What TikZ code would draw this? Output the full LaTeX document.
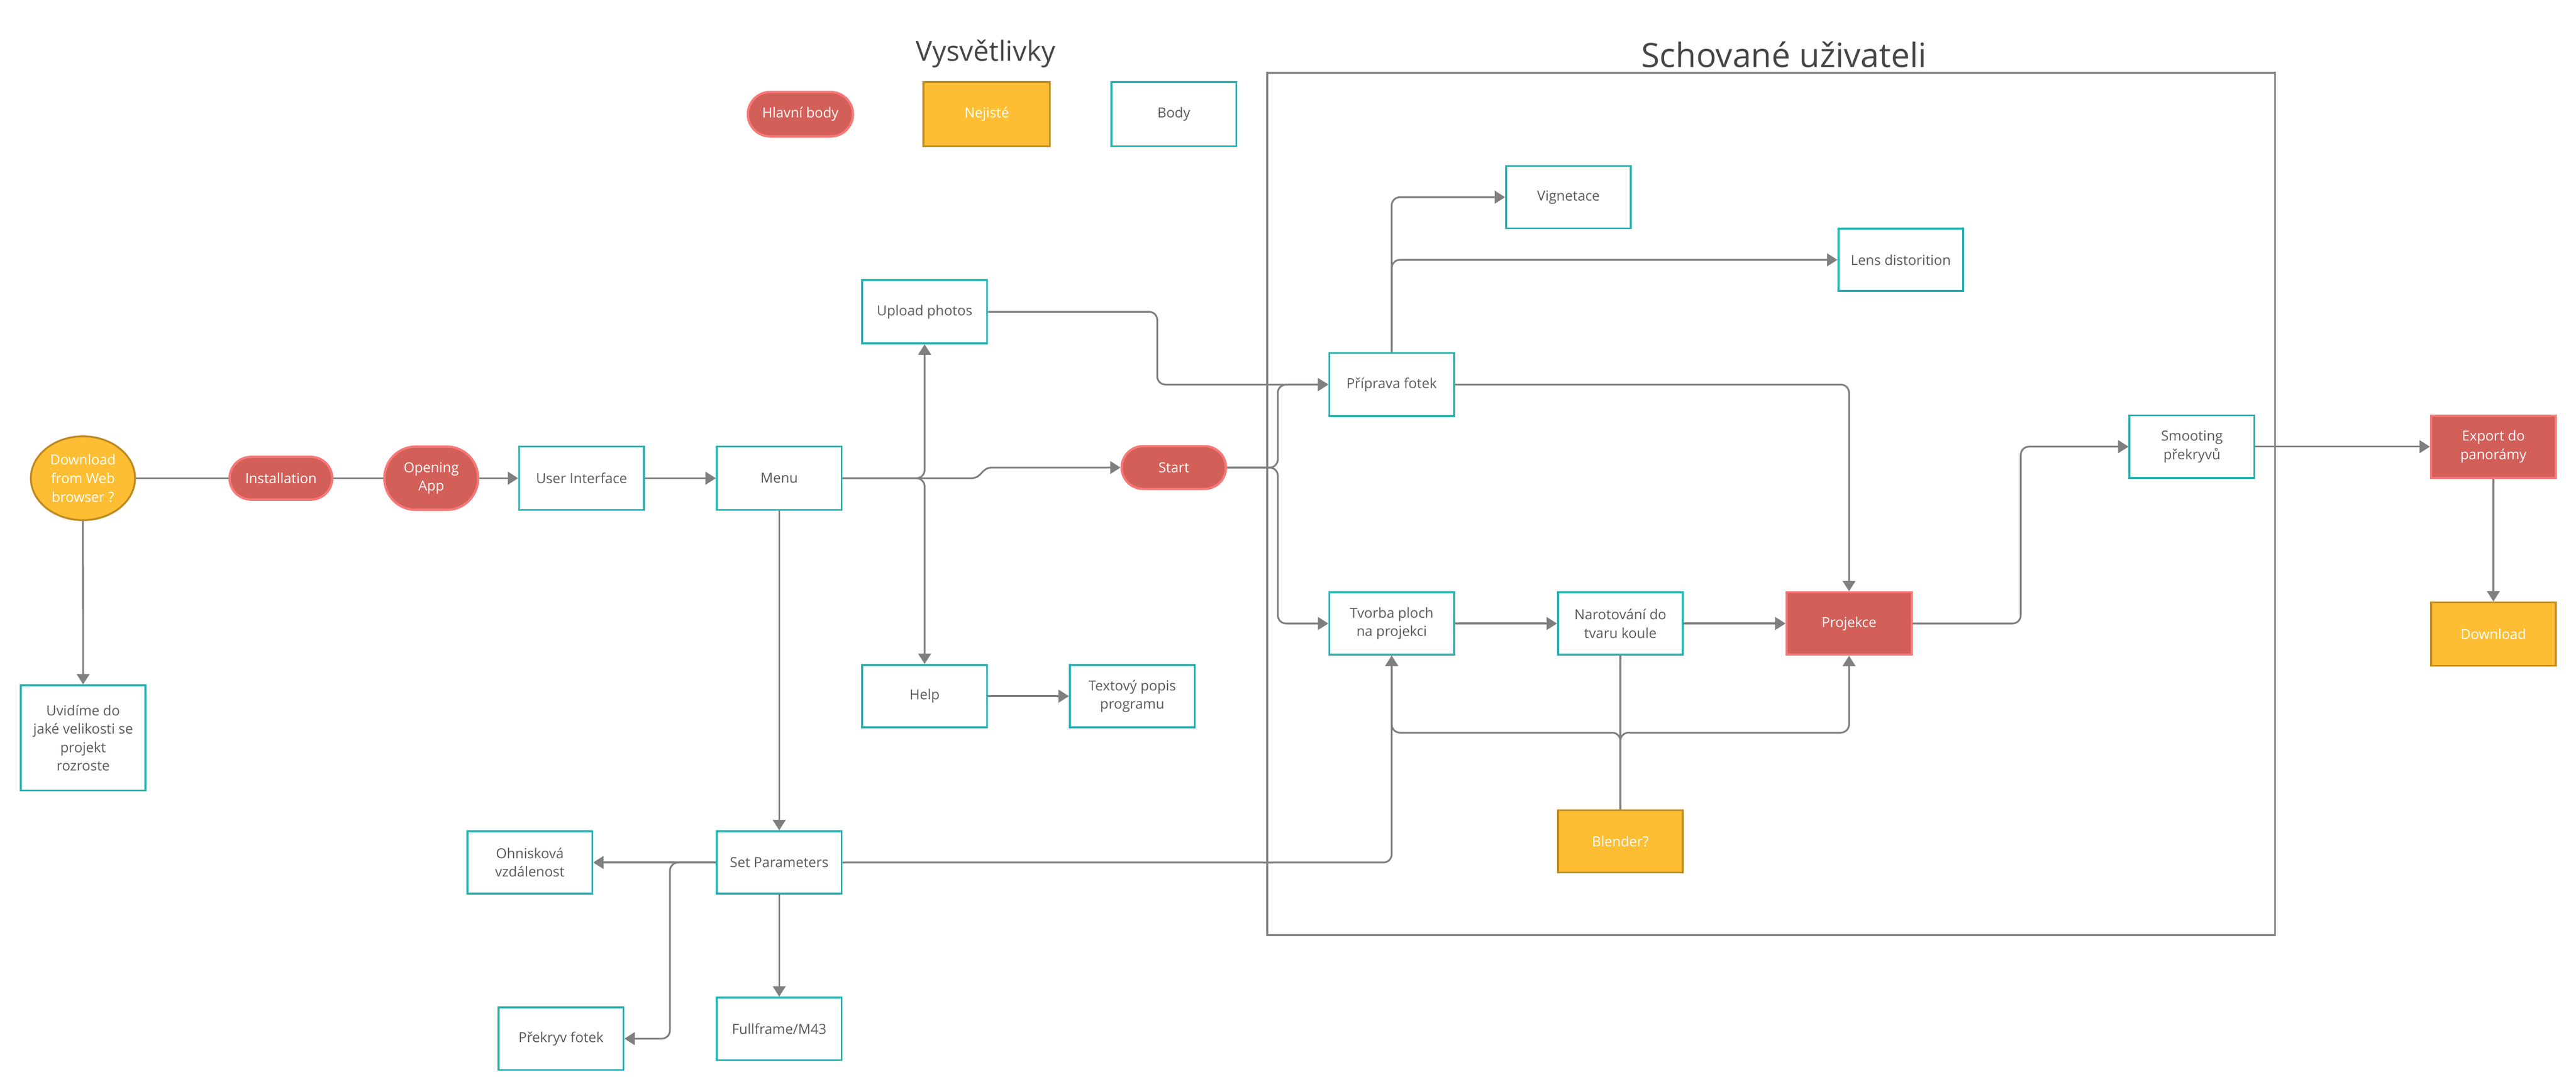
\documentclass[tikz,border=0pt]{standalone}
\usepackage{fontspec}
\setmainfont{Open Sans}
\usetikzlibrary{arrows.meta,shapes.geometric}
\definecolor{tealb}{HTML}{2AAFAF}
\definecolor{redfill}{HTML}{D35F59}
\definecolor{redline}{HTML}{F77878}
\definecolor{yelfill}{HTML}{FDBE33}
\definecolor{yelline}{HTML}{BE8A1E}
\definecolor{txtc}{HTML}{5C5C5C}
\definecolor{titlec}{HTML}{454545}
\definecolor{connc}{HTML}{7F7F7F}
\begin{document}
\begin{tikzpicture}[x=0.5mm,y=-0.5mm,
  base/.style={inner sep=0pt, align=center, font=\fontsize{12}{16}\selectfont},
  bodybox/.style={base, draw=tealb, line width=1.6pt, fill=white, text=txtc, minimum width=38mm, minimum height=19mm},
  redbox/.style={base, draw=redline, line width=1.8pt, fill=redfill, text=white, minimum width=38mm, minimum height=19mm},
  yelbox/.style={base, draw=yelline, line width=1.6pt, fill=yelfill, text=white, minimum width=38mm, minimum height=19mm},
  pill/.style={base, draw=redline, line width=2pt, fill=redfill, text=white, rounded corners=6.5mm, minimum height=13mm},
  conn/.style={draw=connc, line width=1.5pt, rounded corners=2.5mm, -{Triangle[length=9pt,width=11pt]}},
  plainline/.style={draw=connc, line width=1.5pt, rounded corners=2.5mm},
  jogline/.style={draw=connc, line width=1.5pt, -{Triangle[length=9pt,width=11pt]}},
]
\useasboundingbox (0,0) rectangle (1568,663.87);

% titles
\node[anchor=base, text=titlec, font=\fontsize{24}{28}\selectfont, inner sep=0pt] (legtitle) at (600,37) {Vysvětlivky};
\node[anchor=base, text=titlec, font=\fontsize{29}{34}\selectfont, inner sep=0pt] (hidtitle) at (1086,41) {Schované uživateli};

% hidden area frame
\node[draw=connc, line width=1.7pt, minimum width=306.7mm, minimum height=262.4mm, inner sep=0pt] (hidden) at (1078.1,306.7) {};

% legend
\node[pill, minimum width=32mm, minimum height=13.5mm, rounded corners=6.75mm] (leg1) at (487.2,69.5) {Hlavní body};
\node[yelbox, minimum width=38.5mm, minimum height=19.5mm] (leg2) at (600.6,69.5) {Nejisté};
\node[bodybox, minimum height=19.5mm] (leg3) at (714.5,69.5) {Body};

% main flow
\node[base, ellipse, draw=yelline, line width=1.6pt, fill=yelfill, text=white, minimum width=31.7mm, minimum height=25.5mm] (dl) at (50.5,291) {Download\\from Web\\browser ?};
\node[pill, minimum width=31.25mm] (inst) at (171,291) {Installation};
\node[pill, minimum width=28.5mm, minimum height=19.25mm, rounded corners=9.5mm] (open) at (262.5,291) {Opening\\App};
\node[bodybox, minimum height=19.25mm] (ui) at (354,291) {User Interface};
\node[bodybox, minimum height=19.25mm] (menu) at (474.3,291) {Menu};
\node[bodybox, minimum height=32mm] (uvid) at (50.6,449) {Uvidíme do\\jaké velikosti se\\projekt\\rozroste};

\node[bodybox, minimum height=19.25mm] (upload) at (562.8,189.7) {Upload photos};
\node[pill, minimum width=31.75mm] (start) at (714.5,284.5) {Start};
\node[bodybox] (help) at (562.8,423.6) {Help};
\node[bodybox] (text) at (689.2,423.6) {Textový popis\\programu};
\node[bodybox] (setp) at (474.3,524.8) {Set Parameters};
\node[bodybox] (ohn) at (322.5,524.8) {Ohnisková\\vzdálenost};
\node[bodybox] (prek) at (341.5,632) {Překryv fotek};
\node[bodybox] (full) at (474.3,626) {Fullframe/M43};

% hidden part
\node[bodybox, minimum height=19.25mm] (prip) at (847.1,234) {Příprava fotek};
\node[bodybox] (vig) at (954.7,120) {Vignetace};
\node[bodybox] (lens) at (1157,158.1) {Lens distorition};
\node[bodybox] (tvorba) at (847.1,379.4) {Tvorba ploch\\na projekci};
\node[bodybox] (narot) at (986.3,379.4) {Narotování do\\tvaru koule};
\node[redbox] (proj) at (1125.5,379.4) {Projekce};
\node[yelbox] (blender) at (986.3,512) {Blender?};

% right part
\node[bodybox] (smooth) at (1334.2,271.8) {Smooting\\překryvů};
\node[redbox] (export) at (1517.7,271.8) {Export do\\panorámy};
\node[yelbox, minimum height=19.25mm] (download) at (1517.7,385.8) {Download};

% bend coordinates
\coordinate (jogA) at (591,291);
\coordinate (jogB) at (604,284.5);
\coordinate (b1) at (704.4,0);
\coordinate (b2) at (777.8,0);
\coordinate (b3) at (0,445.8);
\coordinate (b4) at (1230,0);
\coordinate (b5) at (407.8,0);

% connectors
\draw[plainline] (dl.east) -- (inst.west);
\draw[plainline] (inst.east) -- (open.west);
\draw[conn] (open.east) -- (ui.west);
\draw[conn] (ui.east) -- (menu.west);
\draw[conn] (dl.south) -- (uvid.north);
\draw[conn] (menu.south) -- (setp.north);
\draw[conn] (menu.east) -| (upload.south);
\draw[conn] (menu.east) -| (help.north);
\draw[jogline] (menu.east) -- (jogA) .. controls +(7,0) and +(-7,0) .. (jogB) -- (start.west);
\draw[conn] (upload.east) -- (upload.east -| b1) -- (b1 |- prip.west) -- (prip.west);
\draw[conn] (start.east) -- (start.east -| b2) -- (b2 |- prip.west) -- (prip.west);
\draw[conn] (start.east) -- (start.east -| b2) -- (b2 |- tvorba.west) -- (tvorba.west);
\draw[conn] (prip.north) |- (vig.west);
\draw[conn] (prip.north) |- (lens.west);
\draw[conn] (prip.east) -| (proj.north);
\draw[conn] (tvorba.east) -- (narot.west);
\draw[conn] (narot.east) -- (proj.west);
\draw[plainline] (narot.south) -- (blender.north);
\draw[conn] (blender.north) -- (blender.north |- b3) -| (tvorba.south);
\draw[conn] (blender.north) -- (blender.north |- b3) -| (proj.south);
\draw[conn] (setp.east) -| (tvorba.south);
\draw[conn] (proj.east) -- (proj.east -| b4) -- (b4 |- smooth.west) -- (smooth.west);
\draw[conn] (smooth.east) -- (export.west);
\draw[conn] (export.south) -- (download.north);
\draw[conn] (help.east) -- (text.west);
\draw[conn] (setp.west) -- (ohn.east);
\draw[conn] (setp.west) -- (setp.west -| b5) -- (b5 |- prek.east) -- (prek.east);
\draw[conn] (setp.south) -- (full.north);
\end{tikzpicture}
\end{document}
